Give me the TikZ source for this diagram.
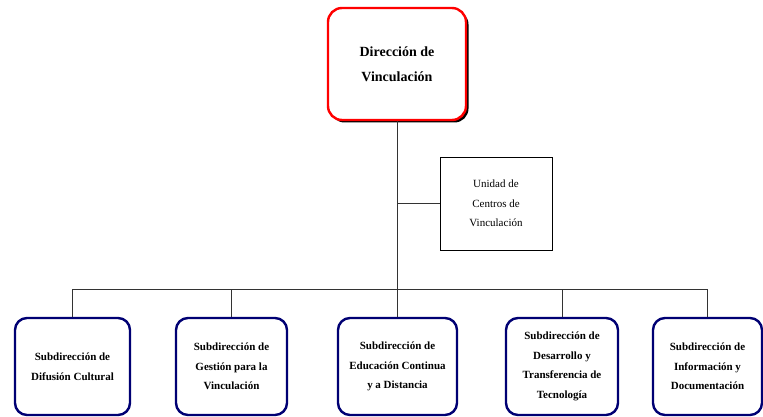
\documentclass[tikz,border=0pt]{standalone}
\usepackage{fontspec}
\setmainfont{Liberation Serif}
\usetikzlibrary{shadows}

\begin{document}
\begin{tikzpicture}[x=1pt, y=-1pt,
    every node/.style={align=center, inner sep=2pt},
    dirbox/.style={draw=red, line width=2.4pt, rounded corners=14pt,
      minimum width=138pt, minimum height=112pt, fill=white,
      font=\bfseries\fontsize{14}{25}\selectfont,
      drop shadow={shadow xshift=2.5pt, shadow yshift=-2.5pt, fill=black, opacity=1}},
    unibox/.style={draw, line width=0.8pt, minimum width=112pt, minimum height=93pt,
      font=\fontsize{11}{19.5}\selectfont},
    subbox/.style={draw=blue!45!black, line width=2.4pt, rounded corners=12pt,
      minimum height=97pt, font=\bfseries\fontsize{11}{19.5}\selectfont},
    link/.style={draw=black!80, line width=0.8pt}]
    \useasboundingbox (0,0) rectangle (763,417);

    \node [dirbox] (dir) at (397, 64) {Dirección de\\Vinculación};
    \node [unibox] (uni) at (496, 203.5) {Unidad de\\Centros de\\Vinculación};

    \node [subbox, minimum width=115pt] (sub1) at (72.5, 366.5) {Subdirección de\\Difusión Cultural};
    \node [subbox, minimum width=111pt] (sub2) at (231.5, 366.5) {Subdirección de\\Gestión para la\\Vinculación};
    \node [subbox, minimum width=119pt] (sub3) at (397.5, 366.5) {Subdirección de\\Educación Continua\\y a Distancia};
    \node [subbox, minimum width=112pt] (sub4) at (562, 366.5) {Subdirección de\\Desarrollo y\\Transferencia de\\Tecnología};
    \node [subbox, minimum width=109pt] (sub5) at (707.5, 366.5) {Subdirección de\\Información y\\Documentación};

    \coordinate (bus) at (0, 289);

    \draw [link] (dir.south) -- (dir.south |- sub3.north);
    \draw [link] (uni.west) -- (uni.west -| dir.south);
    \draw [link] (sub1.north) -- (sub1.north |- bus) -- (sub5.north |- bus) -- (sub5.north);
    \foreach \i in {2,3,4}
      \draw [link] (sub\i.north) -- (sub\i.north |- bus);
  \end{tikzpicture}
\end{document}
